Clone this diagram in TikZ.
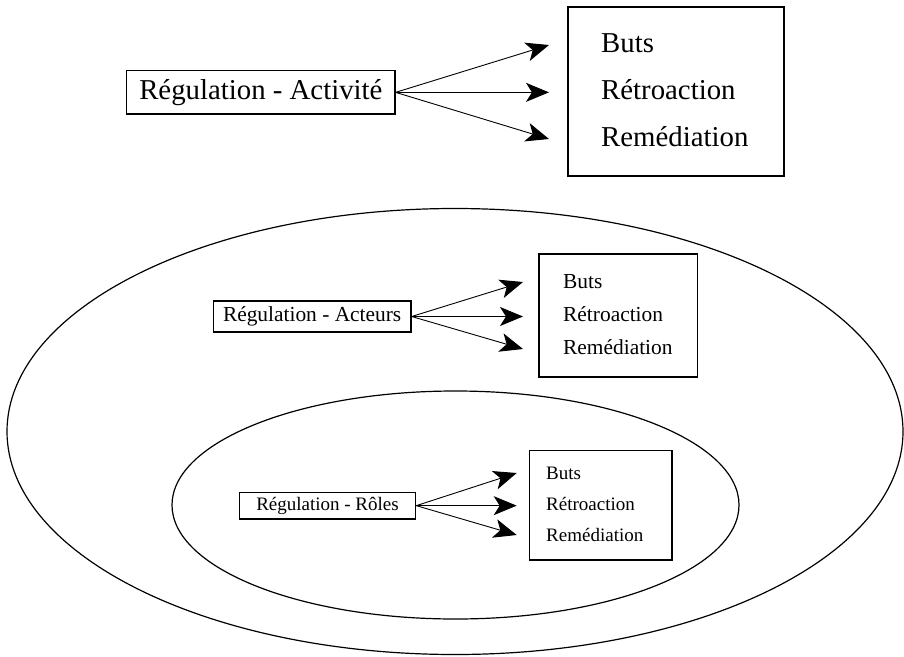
\documentclass[tikz,border=0pt]{standalone}
\usepackage{fontspec}
\setmainfont{Liberation Serif}
\usetikzlibrary{arrows.meta,shapes.geometric}
\begin{document}
\begin{tikzpicture}[x=1pt,y=-1pt,
  regbox/.style={draw,line width=1.2pt,inner sep=0pt,text depth=0pt},
  listbox/.style={draw,line width=1.2pt,inner sep=0pt},
  item/.style={anchor=base west,inner sep=0pt},
  arr/.style={line width=0.9pt,arrows={-Stealth[length=23pt,width=19pt,inset=6pt]}},
  zone/.style={draw,ellipse,line width=1.2pt,inner sep=0pt},
  fbig/.style={font=\fontsize{28.8}{32}\selectfont},
  fmid/.style={font=\fontsize{21.4}{24}\selectfont},
  fsmall/.style={font=\fontsize{19}{22}\selectfont}]
\useasboundingbox (0,0) rectangle (904,656);

% ellipses
\node[zone,minimum width=896pt,minimum height=446pt] (outer) at (455,431.5) {};
\node[zone,minimum width=567pt,minimum height=228pt] (inner) at (455.5,505) {};

% top level
\node[regbox,fbig,minimum width=268.3pt,minimum height=43.3pt,text height=13.3pt] (ra) at (260.85,92.35) {Régulation - Activité};
\node[listbox,minimum width=216pt,minimum height=169pt] (la) at (676,91.5) {};
\node[item,fbig] (a1) at (601,52) {Buts};
\node[item,fbig] (a2) at (601,99) {Rétroaction};
\node[item,fbig] (a3) at (601,146) {Remédiation};
\coordinate (ta1) at (549,45);
\coordinate (ta2) at (549,92.35);
\coordinate (ta3) at (549,139);
\draw[arr] (ra.east) -- (ta1);
\draw[arr] (ra.east) -- (ta2);
\draw[arr] (ra.east) -- (ta3);

% middle level
\node[regbox,fmid,minimum width=197.7pt,minimum height=31pt,text height=10.4pt] (rb) at (312.15,316.5) {Régulation - Acteurs};
\node[listbox,minimum width=158.7pt,minimum height=123pt] (lb) at (618.35,315.5) {};
\node[item,fmid] (b1) at (563,288) {Buts};
\node[item,fmid] (b2) at (563,321.7) {Rétroaction};
\node[item,fmid] (b3) at (563,354) {Remédiation};
\coordinate (tb1) at (523,282);
\coordinate (tb2) at (523,316.5);
\coordinate (tb3) at (523,349);
\draw[arr] (rb.east) -- (tb1);
\draw[arr] (rb.east) -- (tb2);
\draw[arr] (rb.east) -- (tb3);

% inner level
\node[regbox,fsmall,minimum width=176.4pt,minimum height=26.7pt,text height=10.1pt] (rc) at (327.5,505.65) {Régulation - Rôles};
\node[listbox,minimum width=142.7pt,minimum height=109.3pt] (lc) at (600.65,505.35) {};
\node[item,fsmall] (c1) at (546,479) {Buts};
\node[item,fsmall] (c2) at (546,510) {Rétroaction};
\node[item,fsmall] (c3) at (546,541) {Remédiation};
\coordinate (tc1) at (516.7,473);
\coordinate (tc2) at (516.7,505.65);
\coordinate (tc3) at (516.7,535);
\draw[arr] (rc.east) -- (tc1);
\draw[arr] (rc.east) -- (tc2);
\draw[arr] (rc.east) -- (tc3);
\end{tikzpicture}
\end{document}
